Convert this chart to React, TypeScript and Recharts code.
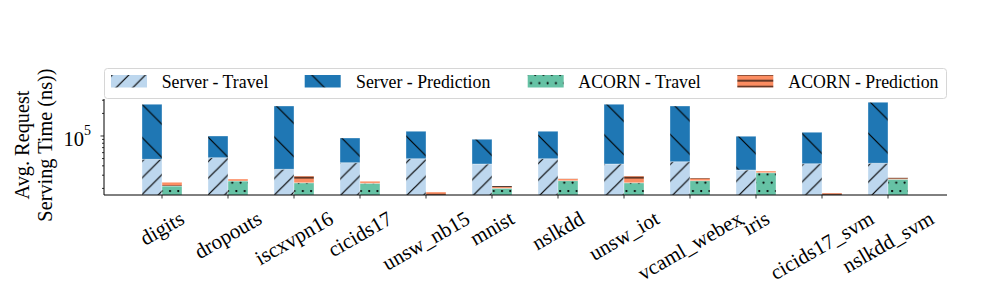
import React from 'react';
import { BarChart, Bar, XAxis, YAxis } from 'recharts';

const categories = ['digits', 'dropouts', 'iscxvpn16', 'cicids17', 'unsw_nb15', 'mnist', 'nslkdd', 'unsw_iot', 'vcaml_webex', 'iris', 'cicids17_svm', 'nslkdd_svm'];
const serverTravel = [48900, 51400, 36000, 44100, 49800, 42300, 49800, 42300, 45400, 35200, 42700, 43300];
const serverPrediction = [215800, 48600, 215200, 50000, 65700, 48000, 65700, 222400, 205800, 63900, 69300, 238000];
const acornTravel = [21500, 25100, 23800, 23400, 15500, 20100, 25400, 23800, 25400, 32400, 15000, 26500];
const acornPrediction = [2600, 1600, 5500, 1500, 2400, 1500, 1600, 5500, 2100, 1700, 2400, 1300];
const yTicks = [20000, 30000, 40000, 50000, 60000, 70000, 80000, 90000, 100000, 200000, 300000];
const yDomain = [16340, 311400];
const legendLabels = ['Server - Travel', 'Server - Prediction', 'ACORN - Travel', 'ACORN - Prediction'];
const yLabelLines = ['Avg. Request', 'Serving Time (ns))'];

const data = categories.map((name, i) => ({
  name,
  serverTravel: serverTravel[i],
  serverPrediction: serverPrediction[i],
  acornTravel: acornTravel[i],
  acornPrediction: acornPrediction[i],
}));

const FONT = "'Liberation Serif', 'Times New Roman', serif";
const W: Record<string, number> = {
  a: 444, b: 500, c: 444, d: 500, e: 444, f: 333, g: 500, h: 500, i: 278, j: 278, k: 500, l: 278, m: 778,
  n: 500, o: 500, p: 500, q: 500, r: 333, s: 389, t: 278, u: 500, v: 500, w: 722, x: 500, y: 500, z: 444, _: 500,
};
const textWidth = (s: string, f: number) => {
  let t = 0;
  for (const ch of s) t += W[ch] ?? 500;
  return (t * f) / 1000;
};

const XTick = (props: any) => {
  const { x, y, payload } = props;
  const f = 21;
  const w = textWidth(String(payload.value), f);
  const H = 1.107 * f;
  const hb = w * 0.5 + H * 0.866;
  const cy = y + 8 + hb / 2;
  return (
    <text
      x={0}
      y={0}
      transform={`translate(${x},${cy}) rotate(-30)`}
      textAnchor="middle"
      dominantBaseline="central"
      fontSize={f}
      fontFamily={FONT}
      fill="#000"
    >
      {payload.value}
    </text>
  );
};

const YTick = (props: any) => {
  const { x, y, payload } = props;
  const major = payload.value === 100000;
  return (
    <g>
      <line x1={x - (major ? 3.5 : 2)} x2={x} y1={y} y2={y} stroke="#000" strokeWidth={0.8} />
      {major && (
        <text x={x - 13} y={y + 10.5} textAnchor="end" fontSize={20.5} fontFamily={FONT} fill="#000">
          10
          <tspan dy={-11} fontSize={14}>5</tspan>
        </text>
      )}
    </g>
  );
};

const patternIds = ['pSrvTravel', 'pSrvPred', 'pAcTravel', 'pAcPredLegend'];
const legendX = [111, 304.7, 527.7, 737.3];
const legendTextX = [161.7, 356, 578.3, 788.3];
const EDGE = 'rgba(255,255,255,0.35)';

export default function App() {
  return (
    <div style={{ position: 'absolute', left: 0, top: 0 }}>
      <BarChart
        width={997}
        height={299}
        data={data}
        margin={{ top: 99, right: 50, bottom: 74, left: 44 }}
        barGap={0}
      >
        <defs>
          <pattern id="pSrvTravel" patternUnits="userSpaceOnUse" width={16.6} height={16.6} x={0} y={4.6}>
            <rect width={16.6} height={16.6} fill="#bdd7ee" />
            <path d="M-2,2 L2,-2 M0,16.6 L16.6,0 M14.6,18.6 L18.6,14.6" stroke="#000" strokeWidth={1.2} />
          </pattern>
          <pattern id="pSrvPred" patternUnits="userSpaceOnUse" width={33.2} height={33.2} x={0} y={28.7}>
            <rect width={33.2} height={33.2} fill="#1f77b4" />
            <path d="M0,0 L33.2,33.2 M-2,31.2 L2,35.2 M31.2,-2 L35.2,2" stroke="#000" strokeWidth={1.2} />
          </pattern>
          <pattern id="pAcTravel" patternUnits="userSpaceOnUse" width={8.3} height={16.6} x={2} y={6.4}>
            <rect width={8.3} height={16.6} fill="#66c2a5" />
            <circle cx={2} cy={2} r={1.1} fill="#000" />
            <circle cx={6.15} cy={10.3} r={1.1} fill="#000" />
          </pattern>
          <pattern id="pAcPred" patternUnits="userSpaceOnUse" width={10} height={8.6} x={0} y={1.7}>
            <rect width={10} height={8.6} fill="#fc8d62" />
            <line x1={0} x2={10} y1={4} y2={4} stroke="#000" strokeWidth={1.2} />
          </pattern>
          <pattern id="pAcPredLegend" patternUnits="userSpaceOnUse" width={10} height={6} x={0} y={-1.3}>
            <rect width={10} height={6} fill="#fc8d62" />
            <line x1={0} x2={10} y1={4} y2={4} stroke="#000" strokeWidth={1.2} />
          </pattern>
        </defs>
        <XAxis
          dataKey="name"
          interval={0}
          height={30}
          tick={<XTick />}
          tickSize={3.5}
          tickMargin={0}
          padding={{ left: 25, right: 26 }}
          axisLine={{ stroke: '#000', strokeWidth: 1 }}
          tickLine={{ stroke: '#000', strokeWidth: 0.8 }}
        />
        <YAxis
          scale="log"
          type="number"
          domain={yDomain}
          allowDataOverflow
          ticks={yTicks}
          interval={0}
          width={60}
          tick={<YTick />}
          tickLine={false}
          tickSize={0}
          tickMargin={0}
          axisLine={{ stroke: '#000', strokeWidth: 1 }}
        />
        <Bar dataKey="serverTravel" stackId="server" fill="url(#pSrvTravel)" stroke={EDGE} strokeWidth={1} barSize={20} isAnimationActive={false} />
        <Bar dataKey="serverPrediction" stackId="server" fill="url(#pSrvPred)" stroke={EDGE} strokeWidth={1} barSize={20} isAnimationActive={false} />
        <Bar dataKey="acornTravel" stackId="acorn" fill="url(#pAcTravel)" stroke={EDGE} strokeWidth={1} barSize={20} isAnimationActive={false} />
        <Bar dataKey="acornPrediction" stackId="acorn" fill="url(#pAcPred)" stroke={EDGE} strokeWidth={1} barSize={20} isAnimationActive={false} />

        <g>
          <rect x={104.5} y={68.5} width={842} height={30} rx={3} fill="#fff" stroke="#d6d6d6" strokeWidth={1} />
          {legendLabels.map((label, i) => (
            <g key={label}>
              <rect x={legendX[i]} y={75} width={36} height={12.5} fill={`url(#${patternIds[i]})`} />
              <text x={legendTextX[i]} y={87.5} fontSize={17.8} fontFamily={FONT} fill="#000">
                {label}
              </text>
            </g>
          ))}
        </g>
        <g>
          {yLabelLines.map((line, i) => (
            <text
              key={line}
              transform={`translate(${i === 0 ? 28.5 : 52},145) rotate(-90)`}
              textAnchor="middle"
              fontSize={20.3}
              fontFamily={FONT}
              fill="#000"
            >
              {line}
            </text>
          ))}
        </g>
      </BarChart>
    </div>
  );
}
